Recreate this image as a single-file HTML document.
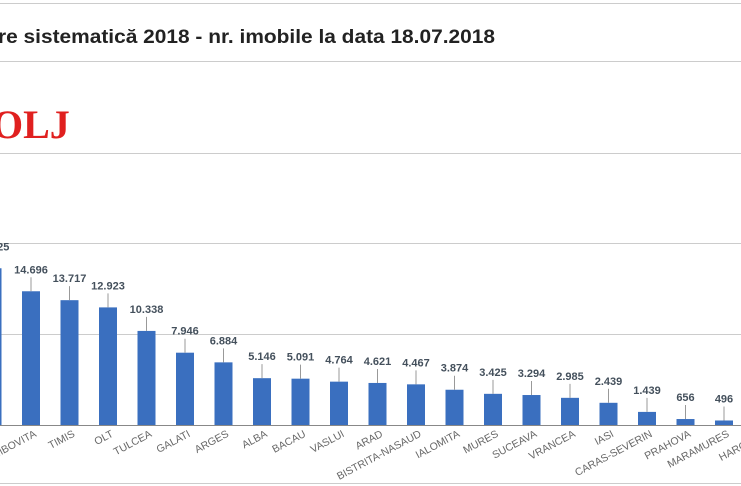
<!DOCTYPE html>
<html><head><meta charset="utf-8"><style>
html,body{margin:0;padding:0;background:#fff;width:741px;height:486px;overflow:hidden}
svg{display:block}
</style></head><body>
<svg id="s" width="741" height="486" xmlns="http://www.w3.org/2000/svg" font-family="Liberation Sans, Arial, sans-serif">
<line x1="0" y1="3.5" x2="741" y2="3.5" stroke="#ccc"/>
<text x="-2" y="43" font-size="19" fill="#222" font-weight="bold" textLength="497" lengthAdjust="spacingAndGlyphs">re sistematică 2018 - nr. imobile la data 18.07.2018</text>
<line x1="0" y1="61.5" x2="741" y2="61.5" stroke="#ccc"/>
<text x="-8" y="138" font-size="40" font-family="Liberation Serif, serif" font-weight="bold" fill="#e0201f">OLJ</text>
<line x1="0" y1="153.5" x2="741" y2="153.5" stroke="#ccc"/>
<line x1="0" y1="243.5" x2="741" y2="243.5" stroke="#ccc"/>
<line x1="0" y1="334.5" x2="741" y2="334.5" stroke="#ccc"/>
<line x1="0" y1="483.5" x2="741" y2="483.5" stroke="#ccc"/>
<g id="g"></g>
<line x1="0" y1="425.5" x2="741" y2="425.5" stroke="#888"/>
</svg>
<script>
var d=[["",17225],["DAMBOVITA",14696],["TIMIS",13717],["OLT",12923],["TULCEA",10338],["GALATI",7946],["ARGES",6884],["ALBA",5146],["BACAU",5091],["VASLUI",4764],["ARAD",4621],["BISTRITA-NASAUD",4467],["IALOMITA",3874],["MURES",3425],["SUCEAVA",3294],["VRANCEA",2985],["IASI",2439],["CARAS-SEVERIN",1439],["PRAHOVA",656],["MARAMURES",496],["HARGHITA",150]];
var h="";
d.forEach(function(r,i){
 var cx=-7.5+i*38.5, top=425-r[1]*0.0091, x=cx-9;
 h+='<rect x="'+x+'" y="'+top+'" width="18" height="'+(425-top)+'" fill="#3a6fbf"/>';
 h+='<line x1="'+cx+'" y1="'+top+'" x2="'+cx+'" y2="'+(top-14)+'" stroke="#999" stroke-width="1"/>';
 var v=r[1]>=1000?(Math.floor(r[1]/1000)+"."+String(r[1]%1000).padStart(3,"0")):String(r[1]);
 if(i<20) h+='<text x="'+cx+'" y="'+(top-18)+'" font-size="11" fill="#44505c" text-anchor="middle" font-weight="bold">'+v+'</text>';
 if(r[0]) h+='<text transform="translate('+(cx+6)+',436) rotate(-28)" font-size="10.5" fill="#666" text-anchor="end">'+r[0]+'</text>';
});
document.getElementById("g").innerHTML=h;
</script>
</body></html>
